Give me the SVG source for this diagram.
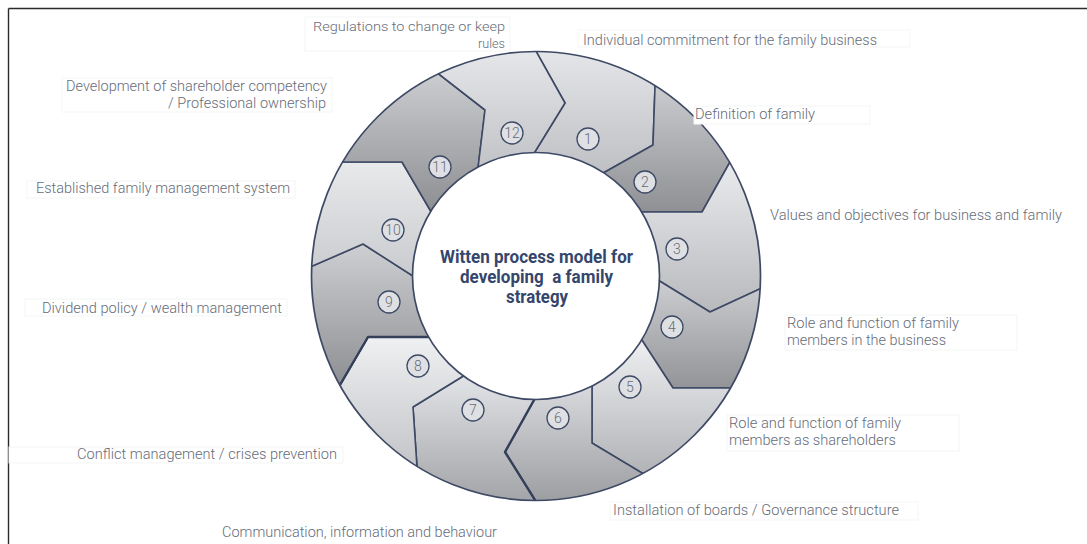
<svg xmlns="http://www.w3.org/2000/svg" width="1087" height="544" viewBox="0 0 1087 544">
  <style>
    .seg { stroke: #3e4a65; stroke-width: 1.6; stroke-linejoin: round; }
    .edge { fill: none; stroke: #3e4a65; stroke-width: 1.7; }
    .thick { fill: none; stroke: #34405a; stroke-width: 2.4; stroke-linejoin: round; }
    .badge circle { fill: #dfe0e3; stroke: #3e4a65; stroke-width: 1.3; }
    .badge text { font-family: Roboto, "Liberation Sans", sans-serif; font-weight: 300; font-size: 14px; fill: #666c78; text-anchor: middle; }
    .lbl { font-family: Roboto, "Liberation Sans", sans-serif; font-weight: 300; font-size: 15px; fill: #666c79; }
    .sm { font-size: 13.5px; }
    .box { fill: #ffffff; stroke: #f4f5f6; stroke-width: 1; }
    .title { font-family: Roboto, "Liberation Sans", sans-serif; font-weight: 700; font-size: 17.5px; fill: #34466b; }
    .frame { stroke: #2a2a2a; stroke-width: 1.4; }
  </style>
  <defs>
    <clipPath id="ring">
      <path clip-rule="evenodd" d="M311.5,276 a224.5,224.5 0 1,0 449,0 a224.5,224.5 0 1,0 -449,0 Z M412.5,276 a123.5,123.5 0 1,0 247,0 a123.5,123.5 0 1,0 -247,0 Z"/>
    </clipPath>
    <linearGradient id="g1" gradientUnits="userSpaceOnUse" x1="0" y1="52" x2="0" y2="173"><stop offset="0" stop-color="#e4e5e8"/><stop offset="1" stop-color="#bfc0c4"/></linearGradient>
    <linearGradient id="g2" gradientUnits="userSpaceOnUse" x1="0" y1="87" x2="0" y2="212"><stop offset="0" stop-color="#cacbce"/><stop offset="1" stop-color="#8f9094"/></linearGradient>
    <linearGradient id="g3" gradientUnits="userSpaceOnUse" x1="0" y1="162" x2="0" y2="312"><stop offset="0" stop-color="#eaebed"/><stop offset="1" stop-color="#b8b9bd"/></linearGradient>
    <linearGradient id="g4" gradientUnits="userSpaceOnUse" x1="0" y1="280" x2="0" y2="388"><stop offset="0" stop-color="#cdced1"/><stop offset="1" stop-color="#939498"/></linearGradient>
    <linearGradient id="g5" gradientUnits="userSpaceOnUse" x1="0" y1="340" x2="0" y2="473"><stop offset="0" stop-color="#eeeff1"/><stop offset="1" stop-color="#b2b3b7"/></linearGradient>
    <linearGradient id="g6" gradientUnits="userSpaceOnUse" x1="0" y1="387" x2="0" y2="501"><stop offset="0" stop-color="#d8d9dc"/><stop offset="1" stop-color="#9d9ea2"/></linearGradient>
    <linearGradient id="g7" gradientUnits="userSpaceOnUse" x1="0" y1="377" x2="0" y2="501"><stop offset="0" stop-color="#e2e3e6"/><stop offset="1" stop-color="#a3a4a8"/></linearGradient>
    <linearGradient id="g8" gradientUnits="userSpaceOnUse" x1="0" y1="337" x2="0" y2="467"><stop offset="0" stop-color="#eff0f2"/><stop offset="1" stop-color="#c3c4c7"/></linearGradient>
    <linearGradient id="g9" gradientUnits="userSpaceOnUse" x1="0" y1="244" x2="0" y2="385"><stop offset="0" stop-color="#cecfd2"/><stop offset="1" stop-color="#8e8f93"/></linearGradient>
    <linearGradient id="g10" gradientUnits="userSpaceOnUse" x1="0" y1="162" x2="0" y2="275"><stop offset="0" stop-color="#e8e9eb"/><stop offset="1" stop-color="#cacbce"/></linearGradient>
    <linearGradient id="g11" gradientUnits="userSpaceOnUse" x1="0" y1="75" x2="0" y2="210"><stop offset="0" stop-color="#cbccd0"/><stop offset="1" stop-color="#8e8f93"/></linearGradient>
    <linearGradient id="g12" gradientUnits="userSpaceOnUse" x1="0" y1="52" x2="0" y2="167"><stop offset="0" stop-color="#e5e6e9"/><stop offset="1" stop-color="#c2c3c6"/></linearGradient>
  </defs>

  <rect width="1087" height="544" fill="#ffffff"/>
  <!-- frame lines along top and left -->
  <line class="frame" x1="8.5" y1="8.5" x2="1087" y2="8.5"/>
  <line class="frame" x1="8.5" y1="8.5" x2="8.5" y2="544"/>

  <!-- twelve chevron steps of the ring, clipped to the annulus -->
  <g id="steps" clip-path="url(#ring)">
    <g id="node-1"><polygon class="seg" fill="url(#g1)" points="517,181 565,103 495,-22 624,-52 658,0 653,145 573,190"/></g>
    <g id="node-2"><polygon class="seg" fill="url(#g2)" points="573,190 653,145 658,0 776,36 772,87 702,212 603,212"/></g>
    <g id="node-3"><polygon class="seg" fill="url(#g3)" points="603,212 702,212 772,87 864,188 840,252 710,312 627,261"/></g>
    <g id="node-4"><polygon class="seg" fill="url(#g4)" points="627,261 710,312 840,252 864,364 823,388 673,388 623,311"/></g>
    <g id="node-5"><polygon class="seg" fill="url(#g5)" points="623,311 673,388 823,388 776,516 717,518 592,443 592,353"/></g>
    <g id="node-6"><polygon class="seg" fill="url(#g6)" points="592,353 592,443 717,518 624,604 580,572 505,452 553,366"/></g>
    <g id="node-7"><polygon class="seg" fill="url(#g7)" points="553,366 505,452 580,572 448,604 423,557 413,407 491,359"/></g>
    <g id="node-8"><polygon class="seg" fill="url(#g8)" points="491,359 413,407 423,557 296,516 298,457 368,337 462,337"/></g>
    <g id="node-9"><polygon class="seg" fill="url(#g9)" points="462,337 368,337 298,457 208,364 230,302 363,244 441,294"/></g>
    <g id="node-10"><polygon class="seg" fill="url(#g10)" points="441,294 363,244 230,302 208,188 254,162 402,162 447,239"/></g>
    <g id="node-11"><polygon class="seg" fill="url(#g11)" points="447,239 402,162 254,162 296,36 372,22 485,110 474,201"/></g>
    <g id="node-12"><polygon class="seg" fill="url(#g12)" points="474,201 485,110 372,22 448,-52 495,-22 565,103 517,181"/></g>
    <!-- heavier step edges -->
    <polyline class="thick" points="580,572 505,452 553,366"/>
    <polyline class="thick" points="298,457 368,337 462,337"/>
  </g>

  <!-- ring outlines -->
  <g id="ring-outline">
    <circle class="edge" cx="536" cy="276" r="224.5"/>
    <circle class="edge" cx="536" cy="276" r="123.5" fill="#ffffff"/>
  </g>

  <!-- numbered badges -->
  <g id="badges" class="badge">
    <g id="badge-1"><circle cx="588" cy="139" r="11"/><text x="588" y="144">1</text></g>
    <g id="badge-2"><circle cx="645" cy="182" r="11"/><text x="645" y="187">2</text></g>
    <g id="badge-3"><circle cx="677" cy="249" r="11"/><text x="677" y="254">3</text></g>
    <g id="badge-4"><circle cx="672" cy="327" r="11"/><text x="672" y="332">4</text></g>
    <g id="badge-5"><circle cx="630" cy="387" r="11"/><text x="630" y="392">5</text></g>
    <g id="badge-6"><circle cx="558" cy="418" r="11"/><text x="558" y="423">6</text></g>
    <g id="badge-7"><circle cx="473" cy="410" r="11"/><text x="473" y="415">7</text></g>
    <g id="badge-8"><circle cx="418" cy="366" r="11"/><text x="418" y="371">8</text></g>
    <g id="badge-9"><circle cx="389" cy="302" r="11"/><text x="389" y="307">9</text></g>
    <g id="badge-10"><circle cx="393" cy="230" r="11"/><text x="393" y="235">10</text></g>
    <g id="badge-11"><circle cx="440" cy="167" r="11"/><text x="440" y="172">11</text></g>
    <g id="badge-12"><circle cx="512" cy="133" r="11"/><text x="512" y="138">12</text></g>
  </g>

  <!-- step labels -->
  <g id="labels">
    <g id="label-1">
      <rect class="box" x="578" y="30" width="332" height="17"/>
      <text class="lbl" x="583" y="44.5" textLength="294" lengthAdjust="spacingAndGlyphs">Individual commitment for the family business</text>
    </g>
    <g id="label-2">
      <rect class="box" x="694" y="106" width="176" height="18"/>
      <text class="lbl" x="695" y="119" textLength="120" lengthAdjust="spacingAndGlyphs">Definition of family</text>
    </g>
    <g id="label-3">
      <text class="lbl" x="770" y="220" textLength="292" lengthAdjust="spacingAndGlyphs">Values and objectives for business and family</text>
    </g>
    <g id="label-4">
      <rect class="box" x="785" y="315" width="232" height="35"/>
      <text class="lbl" x="787" y="327.5" textLength="172" lengthAdjust="spacingAndGlyphs">Role and function of family</text>
      <text class="lbl" x="787" y="345" textLength="159" lengthAdjust="spacingAndGlyphs">members in the business</text>
    </g>
    <g id="label-5">
      <rect class="box" x="727" y="415" width="232" height="36"/>
      <text class="lbl" x="729" y="428" textLength="172" lengthAdjust="spacingAndGlyphs">Role and function of family</text>
      <text class="lbl" x="729" y="445" textLength="167" lengthAdjust="spacingAndGlyphs">members as shareholders</text>
    </g>
    <g id="label-6">
      <rect class="box" x="610" y="502" width="308" height="18"/>
      <text class="lbl" x="613" y="515" textLength="286" lengthAdjust="spacingAndGlyphs">Installation of boards / Governance structure</text>
    </g>
    <g id="label-7">
      <text class="lbl" x="222" y="536.5" textLength="275" lengthAdjust="spacingAndGlyphs">Communication, information and behaviour</text>
    </g>
    <g id="label-8">
      <rect class="box" x="9" y="447" width="334" height="16"/>
      <text class="lbl" x="77" y="458.5" textLength="260" lengthAdjust="spacingAndGlyphs">Conflict management / crises prevention</text>
    </g>
    <g id="label-9">
      <rect class="box" x="25" y="299" width="262" height="17"/>
      <text class="lbl" x="42" y="312.5" textLength="240" lengthAdjust="spacingAndGlyphs">Dividend policy / wealth management</text>
    </g>
    <g id="label-10">
      <rect class="box" x="27" y="181" width="268" height="17"/>
      <text class="lbl" x="36" y="193" textLength="254" lengthAdjust="spacingAndGlyphs">Established family management system</text>
    </g>
    <g id="label-11">
      <rect class="box" x="62" y="78" width="270" height="34"/>
      <text class="lbl" x="66" y="90.5" textLength="261" lengthAdjust="spacingAndGlyphs">Development of shareholder competency</text>
      <text class="lbl" x="168" y="107.5" textLength="158" lengthAdjust="spacingAndGlyphs">/ Professional ownership</text>
    </g>
    <g id="label-12">
      <rect class="box" x="305" y="17" width="205" height="34"/>
      <text class="lbl sm" x="313" y="31" textLength="192" lengthAdjust="spacingAndGlyphs">Regulations to change or keep</text>
      <text class="lbl sm" x="478" y="47.5" textLength="27" lengthAdjust="spacingAndGlyphs">rules</text>
    </g>
  </g>

  <!-- centre title -->
  <g id="title">
    <text class="title" x="440" y="263" textLength="193" lengthAdjust="spacingAndGlyphs">Witten process model for</text>
    <text class="title" x="460" y="283" textLength="153" lengthAdjust="spacingAndGlyphs" xml:space="preserve">developing  a family</text>
    <text class="title" x="506" y="303" textLength="62" lengthAdjust="spacingAndGlyphs">strategy</text>
  </g>
</svg>
